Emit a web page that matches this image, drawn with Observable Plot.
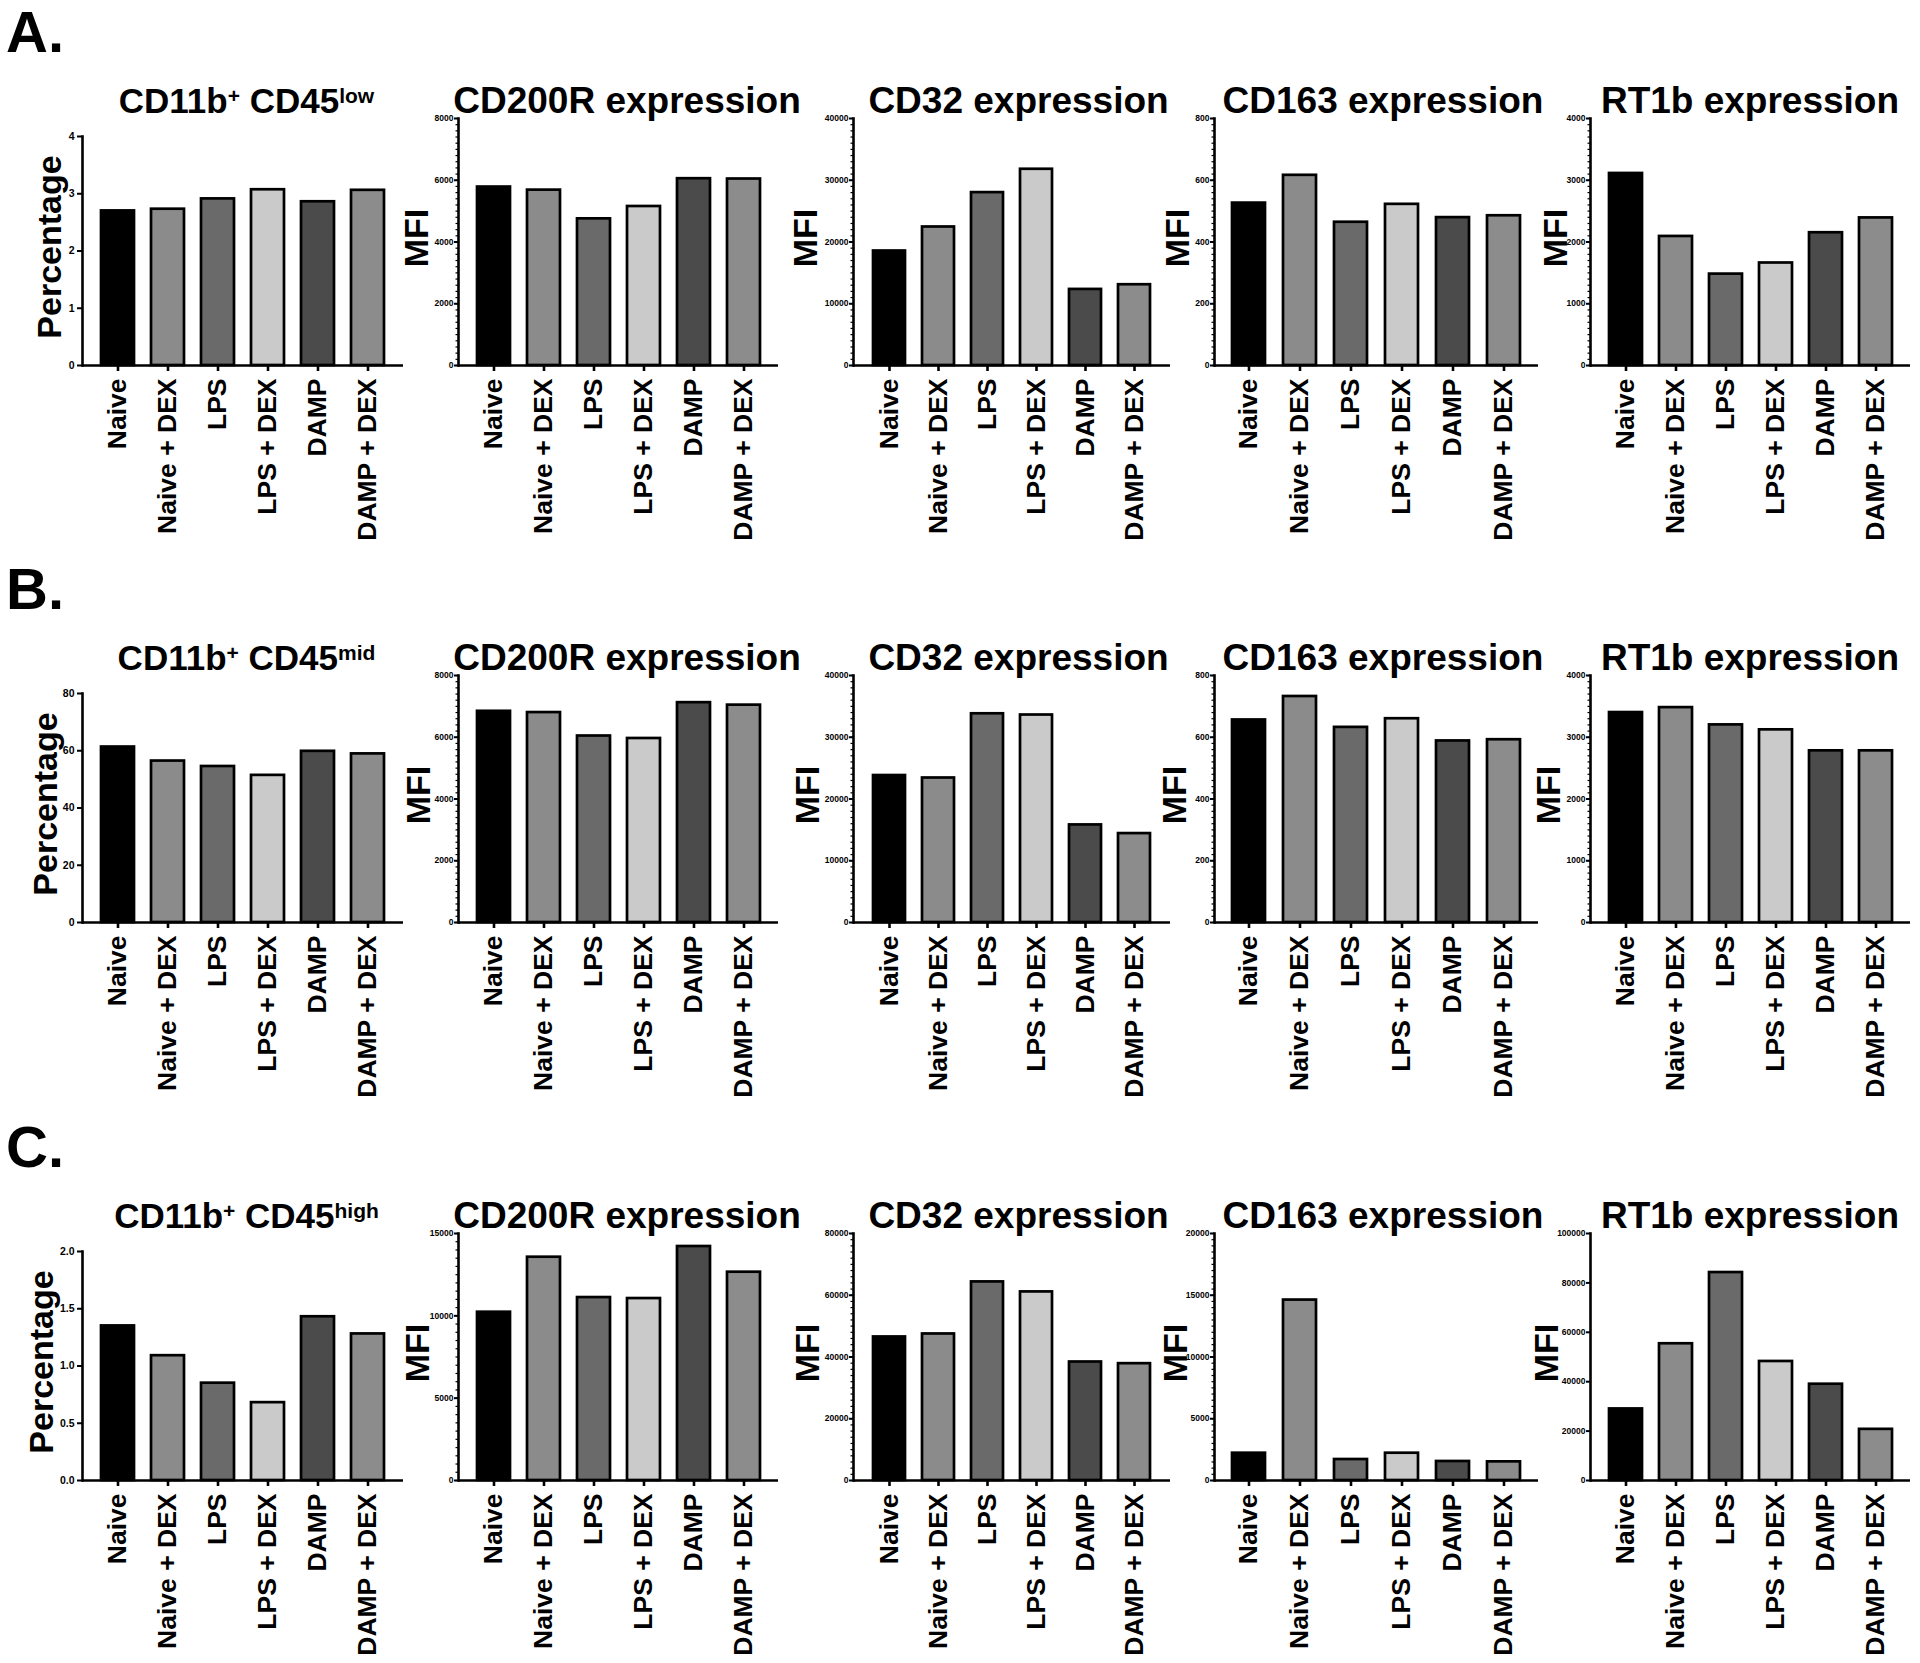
<!DOCTYPE html>
<html><head><meta charset="utf-8">
<script src="https://cdn.jsdelivr.net/npm/d3@7"></script>
<script src="https://cdn.jsdelivr.net/npm/@observablehq/plot@0.6"></script>
<style>
body{margin:0;background:#fff;}
#page{position:relative;width:1920px;height:1663px;overflow:hidden;font-family:"Liberation Sans",Arial,sans-serif;color:#000;background:#fff;}
.panel{position:absolute;}
.panel svg{overflow:visible;}
.title{position:absolute;font-weight:bold;white-space:nowrap;text-align:center;width:420px;}
.sup{font-size:21px;line-height:0;vertical-align:10px;}
.letter{position:absolute;font-weight:bold;font-size:58px;line-height:58px;}
</style></head><body><div id="page"></div>
<script>
// ---------- data ----------
const categories = ["Naive", "Naive + DEX", "LPS", "LPS + DEX", "DAMP", "DAMP + DEX"];
const barColors = ["#000000", "#8b8b8b", "#6a6a6a", "#cacaca", "#4b4b4b", "#8c8c8c"];
const rowLetters = ["A.", "B.", "C."];
const rowSubsets = ["low", "mid", "high"];
const markers = ["CD200R", "CD32", "CD163", "RT1b"];

// Row A: CD11b+ CD45low
const lowPercentage = [2.70, 2.73, 2.91, 3.07, 2.86, 3.06];
const lowCD200R = [5780, 5680, 4750, 5150, 6050, 6040];
const lowCD32 = [18540, 22430, 28000, 31780, 12320, 13080];
const lowCD163 = [526, 616, 464, 522, 479, 485];
const lowRT1b = [3110, 2090, 1480, 1660, 2150, 2390];
// Row B: CD11b+ CD45mid
const midPercentage = [61.3, 56.4, 54.5, 51.4, 59.8, 58.9];
const midCD200R = [6840, 6800, 6040, 5960, 7120, 7040];
const midCD32 = [23800, 23400, 33800, 33600, 15800, 14400];
const midCD163 = [656, 732, 632, 660, 588, 592];
const midRT1b = [3400, 3480, 3200, 3120, 2780, 2780];
// Row C: CD11b+ CD45high
const highPercentage = [1.35, 1.09, 0.85, 0.68, 1.43, 1.28];
const highCD200R = [10220, 13560, 11110, 11050, 14210, 12650];
const highCD32 = [46490, 47460, 64320, 61080, 38380, 37840];
const highCD163 = [2210, 14610, 1700, 2210, 1540, 1510];
const highRT1b = [28970, 55360, 84200, 48190, 38980, 20710];

// tick labels
const lowPercentageTicks = [0, 1, 2, 3, 4];
const midPercentageTicks = [0, 20, 40, 60, 80];
const highPercentageTicks = [0, 0.5, 1.0, 1.5, 2.0];
const cd200rTicksAB = [0, 2000, 4000, 6000, 8000];
const cd32TicksAB = [0, 10000, 20000, 30000, 40000];
const cd163TicksAB = [0, 200, 400, 600, 800];
const rt1bTicksAB = [0, 1000, 2000, 3000, 4000];
const cd200rTicksC = [0, 5000, 10000, 15000];
const cd32TicksC = [0, 20000, 40000, 60000, 80000];
const cd163TicksC = [0, 5000, 10000, 15000, 20000];
const rt1bTicksC = [0, 20000, 40000, 60000, 80000, 100000];

const rows = [
  [ {values: lowPercentage, ticks: lowPercentageTicks, pct: true},
    {values: lowCD200R, ticks: cd200rTicksAB, minor: 10},
    {values: lowCD32, ticks: cd32TicksAB, minor: 10},
    {values: lowCD163, ticks: cd163TicksAB, minor: 10},
    {values: lowRT1b, ticks: rt1bTicksAB, minor: 10} ],
  [ {values: midPercentage, ticks: midPercentageTicks, pct: true},
    {values: midCD200R, ticks: cd200rTicksAB, minor: 10},
    {values: midCD32, ticks: cd32TicksAB, minor: 10},
    {values: midCD163, ticks: cd163TicksAB, minor: 10},
    {values: midRT1b, ticks: rt1bTicksAB, minor: 10} ],
  [ {values: highPercentage, ticks: highPercentageTicks, pct: true, fmt: d3.format(".1f")},
    {values: highCD200R, ticks: cd200rTicksC, minor: 10},
    {values: highCD32, ticks: cd32TicksC, minor: 10},
    {values: highCD163, ticks: cd163TicksC, minor: 10},
    {values: highRT1b, ticks: rt1bTicksC, minor: 0} ]
];

// ---------- layout ----------
const frameLeft = [82, 458, 853, 1214, 1590];
const frameWidth = [321, 320, 317, 324, 320];
const titleShift = [4, 9, 7, 7, 0];
const frameBottom = [365, 922, 1480];
const pctHeight = 229, mfiHeight = 247;
const labelDx = [[-32, -41, -47, -36, -34], [-36, -39, -45, -39, -41], [-40, -40, -45, -38, -43]];
const mL = 80, mR = 8, mT = 16, mB = 210;
const FONT = "'Liberation Sans', Arial, sans-serif";

const page = document.getElementById("page");

rows.forEach((row, r) => {
  // panel letter
  const L = document.createElement("div");
  L.className = "letter";
  L.textContent = rowLetters[r];
  L.style.left = "6px";
  L.style.top = (frameBottom[r] - 313 - 49) + "px";
  page.appendChild(L);

  row.forEach((p, c) => {
    const h = p.pct ? pctHeight : mfiHeight;
    const w = frameWidth[c];
    const top = frameBottom[r] - h;
    const data = categories.map((g, i) => ({group: g, value: p.values[i]}));
    const yMax = p.ticks[p.ticks.length - 1];
    const majorStep = p.ticks[1] - p.ticks[0];
    const minorTicks = p.minor ? d3.range(0, yMax + majorStep / p.minor / 2, majorStep / p.minor) : [];
    const fmt = p.fmt || (d => String(d));
    const marks = [
      Plot.barY(data, {x: "group", y: "value", fill: "group", stroke: "#000", strokeWidth: 2.7}),
      Plot.ruleY([0], {strokeWidth: 2.6}),
      Plot.frame({anchor: "left", strokeWidth: 2.6}),
      Plot.axisY(p.ticks, {tickSize: p.pct ? 5 : 4, tickPadding: p.pct ? 3 : 1, strokeWidth: 2,
        fontSize: p.pct ? 10.5 : 8.5, fontWeight: "bold", tickFormat: fmt, label: null}),
      Plot.axisX({tickSize: 6, tickPadding: 7, tickRotate: -90, fontSize: 26.5, fontWeight: "bold",
        strokeWidth: 2.6, label: null}),
      Plot.text([p.pct ? "Percentage" : "MFI"], {frameAnchor: "left", textAnchor: "middle", rotate: -90,
        dx: labelDx[r][c], dy: -4, fontSize: 34, fontWeight: "bold"})
    ];
    if (minorTicks.length) marks.splice(3, 0, Plot.axisY(minorTicks, {tickSize: 2.5, strokeWidth: 1.2, fill: "none", label: null}));
    const svg = Plot.plot({
      width: mL + w + mR, height: mT + h + mB,
      marginLeft: mL, marginRight: mR, marginTop: mT, marginBottom: mB,
      style: {background: "transparent", fontFamily: FONT, color: "#000", overflow: "visible"},
      x: {domain: categories, paddingInner: 0.35, paddingOuter: 0.35},
      y: {domain: [0, yMax]},
      color: {domain: categories, range: barColors},
      marks
    });
    const div = document.createElement("div");
    div.className = "panel";
    div.style.left = (frameLeft[c] - mL) + "px";
    div.style.top = (top - mT) + "px";
    div.appendChild(svg);
    page.appendChild(div);

    // title
    const T = document.createElement("div");
    T.className = "title";
    const fs = c === 0 ? 35 : 37;
    T.style.fontSize = fs + "px";
    T.style.lineHeight = fs + "px";
    T.style.left = (frameLeft[c] + w / 2 + titleShift[c] - 210) + "px";
    T.style.top = (frameBottom[r] - 252 - fs * 0.8465) + "px";
    if (c === 0) {
      T.innerHTML = `CD11b<span class="sup">+</span> CD45<span class="sup">${rowSubsets[r]}</span>`;
    } else {
      T.textContent = `${markers[c - 1]} expression`;
    }
    page.appendChild(T);
  });
});
</script>
</body></html>
